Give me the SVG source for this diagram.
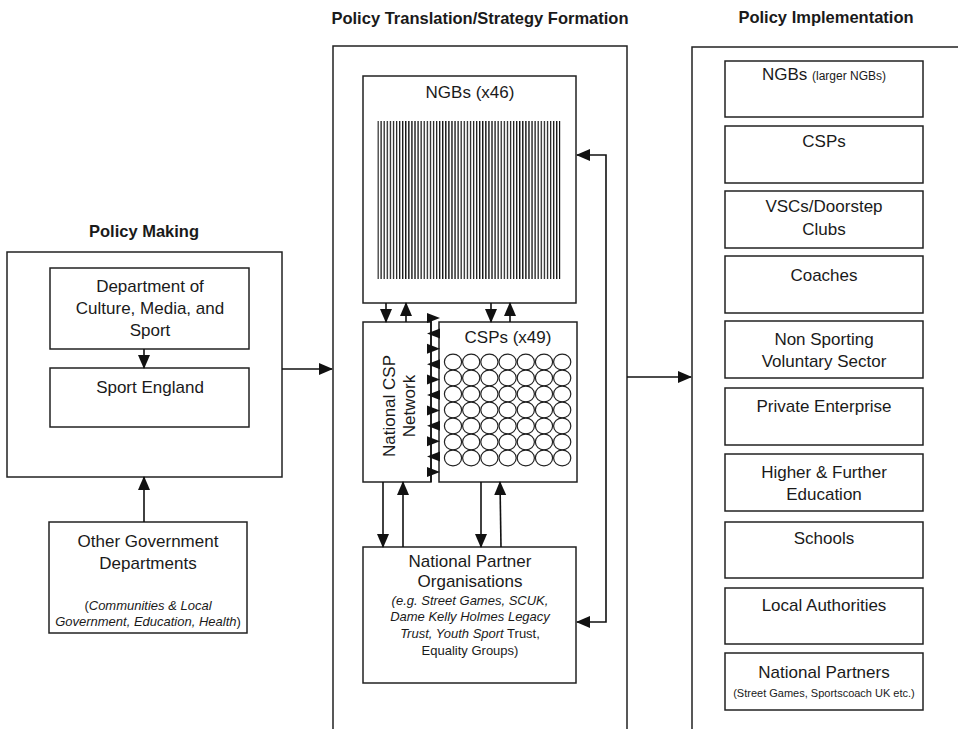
<svg xmlns="http://www.w3.org/2000/svg" width="958" height="729" viewBox="0 0 958 729">
<defs>
<style>
text{font-family:"Liberation Sans",Arial,sans-serif;fill:#1a1a1a;font-size:17px;text-anchor:middle}
.t{font-weight:bold;font-size:16.5px}
.s{font-size:13px}
.xs{font-size:11px}
.xm{font-size:12px}
.i{font-style:italic}
.n{font-style:normal}
.box{fill:#fff;stroke:#222;stroke-width:1.5}
.frame{fill:none;stroke:#222;stroke-width:1.5}
.ln{fill:none;stroke:#111;stroke-width:1.6}
.tri{fill:#111}
.c{fill:#fff;stroke:#222;stroke-width:1.2}
</style>
<marker id="ah" viewBox="0 0 14 13" refX="13" refY="6.5" markerWidth="14" markerHeight="13" markerUnits="userSpaceOnUse" orient="auto-start-reverse">
<path d="M0,0.5 L14,6.5 L0,12.5 Z" fill="#111"/>
</marker>
<pattern id="vl" x="377.4" y="0" width="3.08" height="20" patternUnits="userSpaceOnUse">
<rect x="0" y="0" width="1.3" height="20" fill="#151515"/>
</pattern>
</defs>

<rect width="958" height="729" fill="#fff"/>

<!-- titles -->
<text class="t" x="144" y="237">Policy Making</text>
<text class="t" x="480" y="24">Policy Translation/Strategy Formation</text>
<text class="t" x="826" y="23">Policy Implementation</text>

<!-- frames -->
<g id="policy-making">
<rect class="frame" x="7" y="252" width="275" height="225"/>
</g>
<g id="policy-translation">
<path class="frame" d="M333,732 V46 H627 V732"/>
</g>
<g id="policy-implementation">
<path class="frame" d="M692,732 V47 H962"/>
</g>

<!-- left nodes -->
<g id="dcms">
<rect class="box" x="50" y="268" width="199" height="81"/>
<text x="150" y="292">Department of</text>
<text x="150" y="314">Culture, Media, and</text>
<text x="150" y="336">Sport</text>
</g>
<g id="sport-england">
<rect class="box" x="50" y="368" width="199" height="59"/>
<text x="150" y="393">Sport England</text>
</g>
<g id="other-gov">
<rect class="box" x="49" y="522" width="198" height="111"/>
<text x="148" y="547">Other Government</text>
<text x="148" y="569">Departments</text>
<text class="s i" x="148" y="610"><tspan class="n">(</tspan>Communities &amp; Local</text>
<text class="s i" x="148" y="626">Government, Education, Health<tspan class="n">)</tspan></text>
</g>

<!-- center nodes -->
<g id="ngbs">
<rect class="box" x="363" y="76" width="213" height="227"/>
<text x="470" y="98">NGBs (x46)</text>
<rect x="377.4" y="121" width="183" height="158" fill="url(#vl)"/>
</g>
<g id="national-csp-network">
<rect class="box" x="363" y="322" width="68" height="160"/>
<g transform="translate(399,406) rotate(-90)">
<text x="0" y="-4">National CSP</text>
<text x="0" y="16">Network</text>
</g>
</g>
<g id="csps">
<rect class="box" x="439" y="322" width="138" height="160"/>
<text x="508" y="343">CSPs (x49)</text>
<g id="csp-circles">
<ellipse class="c" cx="453" cy="362" rx="8.6" ry="7.9"/><ellipse class="c" cx="471.2" cy="362" rx="8.6" ry="7.9"/><ellipse class="c" cx="489.4" cy="362" rx="8.6" ry="7.9"/><ellipse class="c" cx="507.6" cy="362" rx="8.6" ry="7.9"/><ellipse class="c" cx="525.8" cy="362" rx="8.6" ry="7.9"/><ellipse class="c" cx="544" cy="362" rx="8.6" ry="7.9"/><ellipse class="c" cx="562.2" cy="362" rx="8.6" ry="7.9"/>
<ellipse class="c" cx="453" cy="378" rx="8.6" ry="7.9"/><ellipse class="c" cx="471.2" cy="378" rx="8.6" ry="7.9"/><ellipse class="c" cx="489.4" cy="378" rx="8.6" ry="7.9"/><ellipse class="c" cx="507.6" cy="378" rx="8.6" ry="7.9"/><ellipse class="c" cx="525.8" cy="378" rx="8.6" ry="7.9"/><ellipse class="c" cx="544" cy="378" rx="8.6" ry="7.9"/><ellipse class="c" cx="562.2" cy="378" rx="8.6" ry="7.9"/>
<ellipse class="c" cx="453" cy="394" rx="8.6" ry="7.9"/><ellipse class="c" cx="471.2" cy="394" rx="8.6" ry="7.9"/><ellipse class="c" cx="489.4" cy="394" rx="8.6" ry="7.9"/><ellipse class="c" cx="507.6" cy="394" rx="8.6" ry="7.9"/><ellipse class="c" cx="525.8" cy="394" rx="8.6" ry="7.9"/><ellipse class="c" cx="544" cy="394" rx="8.6" ry="7.9"/><ellipse class="c" cx="562.2" cy="394" rx="8.6" ry="7.9"/>
<ellipse class="c" cx="453" cy="410" rx="8.6" ry="7.9"/><ellipse class="c" cx="471.2" cy="410" rx="8.6" ry="7.9"/><ellipse class="c" cx="489.4" cy="410" rx="8.6" ry="7.9"/><ellipse class="c" cx="507.6" cy="410" rx="8.6" ry="7.9"/><ellipse class="c" cx="525.8" cy="410" rx="8.6" ry="7.9"/><ellipse class="c" cx="544" cy="410" rx="8.6" ry="7.9"/><ellipse class="c" cx="562.2" cy="410" rx="8.6" ry="7.9"/>
<ellipse class="c" cx="453" cy="426" rx="8.6" ry="7.9"/><ellipse class="c" cx="471.2" cy="426" rx="8.6" ry="7.9"/><ellipse class="c" cx="489.4" cy="426" rx="8.6" ry="7.9"/><ellipse class="c" cx="507.6" cy="426" rx="8.6" ry="7.9"/><ellipse class="c" cx="525.8" cy="426" rx="8.6" ry="7.9"/><ellipse class="c" cx="544" cy="426" rx="8.6" ry="7.9"/><ellipse class="c" cx="562.2" cy="426" rx="8.6" ry="7.9"/>
<ellipse class="c" cx="453" cy="442" rx="8.6" ry="7.9"/><ellipse class="c" cx="471.2" cy="442" rx="8.6" ry="7.9"/><ellipse class="c" cx="489.4" cy="442" rx="8.6" ry="7.9"/><ellipse class="c" cx="507.6" cy="442" rx="8.6" ry="7.9"/><ellipse class="c" cx="525.8" cy="442" rx="8.6" ry="7.9"/><ellipse class="c" cx="544" cy="442" rx="8.6" ry="7.9"/><ellipse class="c" cx="562.2" cy="442" rx="8.6" ry="7.9"/>
<ellipse class="c" cx="453" cy="458" rx="8.6" ry="7.9"/><ellipse class="c" cx="471.2" cy="458" rx="8.6" ry="7.9"/><ellipse class="c" cx="489.4" cy="458" rx="8.6" ry="7.9"/><ellipse class="c" cx="507.6" cy="458" rx="8.6" ry="7.9"/><ellipse class="c" cx="525.8" cy="458" rx="8.6" ry="7.9"/><ellipse class="c" cx="544" cy="458" rx="8.6" ry="7.9"/><ellipse class="c" cx="562.2" cy="458" rx="8.6" ry="7.9"/>
</g>
</g>
<g id="national-partner-orgs">
<rect class="box" x="363" y="547" width="213" height="136"/>
<text x="470" y="567">National Partner</text>
<text x="470" y="587">Organisations</text>
<text class="s i" x="470" y="605">(e.g. Street Games, SCUK,</text>
<text class="s i" x="470" y="621">Dame Kelly Holmes Legacy</text>
<text class="s i" x="470" y="638">Trust, Youth Sport<tspan class="n"> Trust,</tspan></text>
<text class="s" x="470" y="655">Equality Groups)</text>
</g>

<!-- right nodes -->
<g id="r-ngbs"><rect class="box" x="725" y="61" width="198" height="56"/><text x="824" y="80">NGBs <tspan class="xm">(larger NGBs)</tspan></text></g>
<g id="r-csps"><rect class="box" x="725" y="126" width="198" height="57"/><text x="824" y="147">CSPs</text></g>
<g id="r-vscs"><rect class="box" x="725" y="191" width="198" height="57"/><text x="824" y="212">VSCs/Doorstep</text><text x="824" y="235">Clubs</text></g>
<g id="r-coaches"><rect class="box" x="725" y="256" width="198" height="57"/><text x="824" y="281">Coaches</text></g>
<g id="r-nonsport"><rect class="box" x="725" y="321" width="198" height="57"/><text x="824" y="345">Non Sporting</text><text x="824" y="367">Voluntary Sector</text></g>
<g id="r-private"><rect class="box" x="725" y="388" width="198" height="57"/><text x="824" y="412">Private Enterprise</text></g>
<g id="r-hfe"><rect class="box" x="725" y="454" width="198" height="57"/><text x="824" y="478">Higher &amp; Further</text><text x="824" y="500">Education</text></g>
<g id="r-schools"><rect class="box" x="725" y="522" width="198" height="56"/><text x="824" y="544">Schools</text></g>
<g id="r-la"><rect class="box" x="725" y="588" width="198" height="56"/><text x="824" y="611">Local Authorities</text></g>
<g id="r-np"><rect class="box" x="725" y="653" width="198" height="57"/><text x="824" y="678">National Partners</text><text class="xs" x="824" y="697">(Street Games, Sportscoach UK etc.)</text></g>

<!-- connectors -->
<g id="connectors">
<path class="ln" d="M144,349 V368" marker-end="url(#ah)"/>
<path class="ln" d="M144,522 V477" marker-end="url(#ah)"/>
<path class="ln" d="M282,369 H332" marker-end="url(#ah)"/>
<path class="ln" d="M627,377 H691" marker-end="url(#ah)"/>
<path class="ln" d="M386,303 V322" marker-end="url(#ah)"/>
<path class="ln" d="M406,322 V303" marker-end="url(#ah)"/>
<path class="ln" d="M491,303 V322" marker-end="url(#ah)"/>
<path class="ln" d="M510,322 V303" marker-end="url(#ah)"/>
<path class="ln" d="M383,482 V547" marker-end="url(#ah)"/>
<path class="ln" d="M403,547 V482" marker-end="url(#ah)"/>
<path class="ln" d="M481,482 V547" marker-end="url(#ah)"/>
<path class="ln" d="M501,547 L500,482" marker-end="url(#ah)"/>
<path class="ln" d="M577,155 H606 V622 H577" marker-start="url(#ah)" marker-end="url(#ah)"/>
<g id="network-csp-links">
<path class="ln" d="M431,318 V482"/>
<polygon class="tri" points="427,313 427,323 440,318"/>
<polygon class="tri" points="440,328.4 440,338.4 427,333.4"/>
<polygon class="tri" points="427,343.8 427,353.8 440,348.8"/>
<polygon class="tri" points="440,359.2 440,369.2 427,364.2"/>
<polygon class="tri" points="427,374.6 427,384.6 440,379.6"/>
<polygon class="tri" points="440,390 440,400 427,395"/>
<polygon class="tri" points="427,405.4 427,415.4 440,410.4"/>
<polygon class="tri" points="440,420.8 440,430.8 427,425.8"/>
<polygon class="tri" points="427,436.2 427,446.2 440,441.2"/>
<polygon class="tri" points="440,451.6 440,461.6 427,456.6"/>
<polygon class="tri" points="427,467 427,477 440,472"/>
</g>
</g>
</svg>
